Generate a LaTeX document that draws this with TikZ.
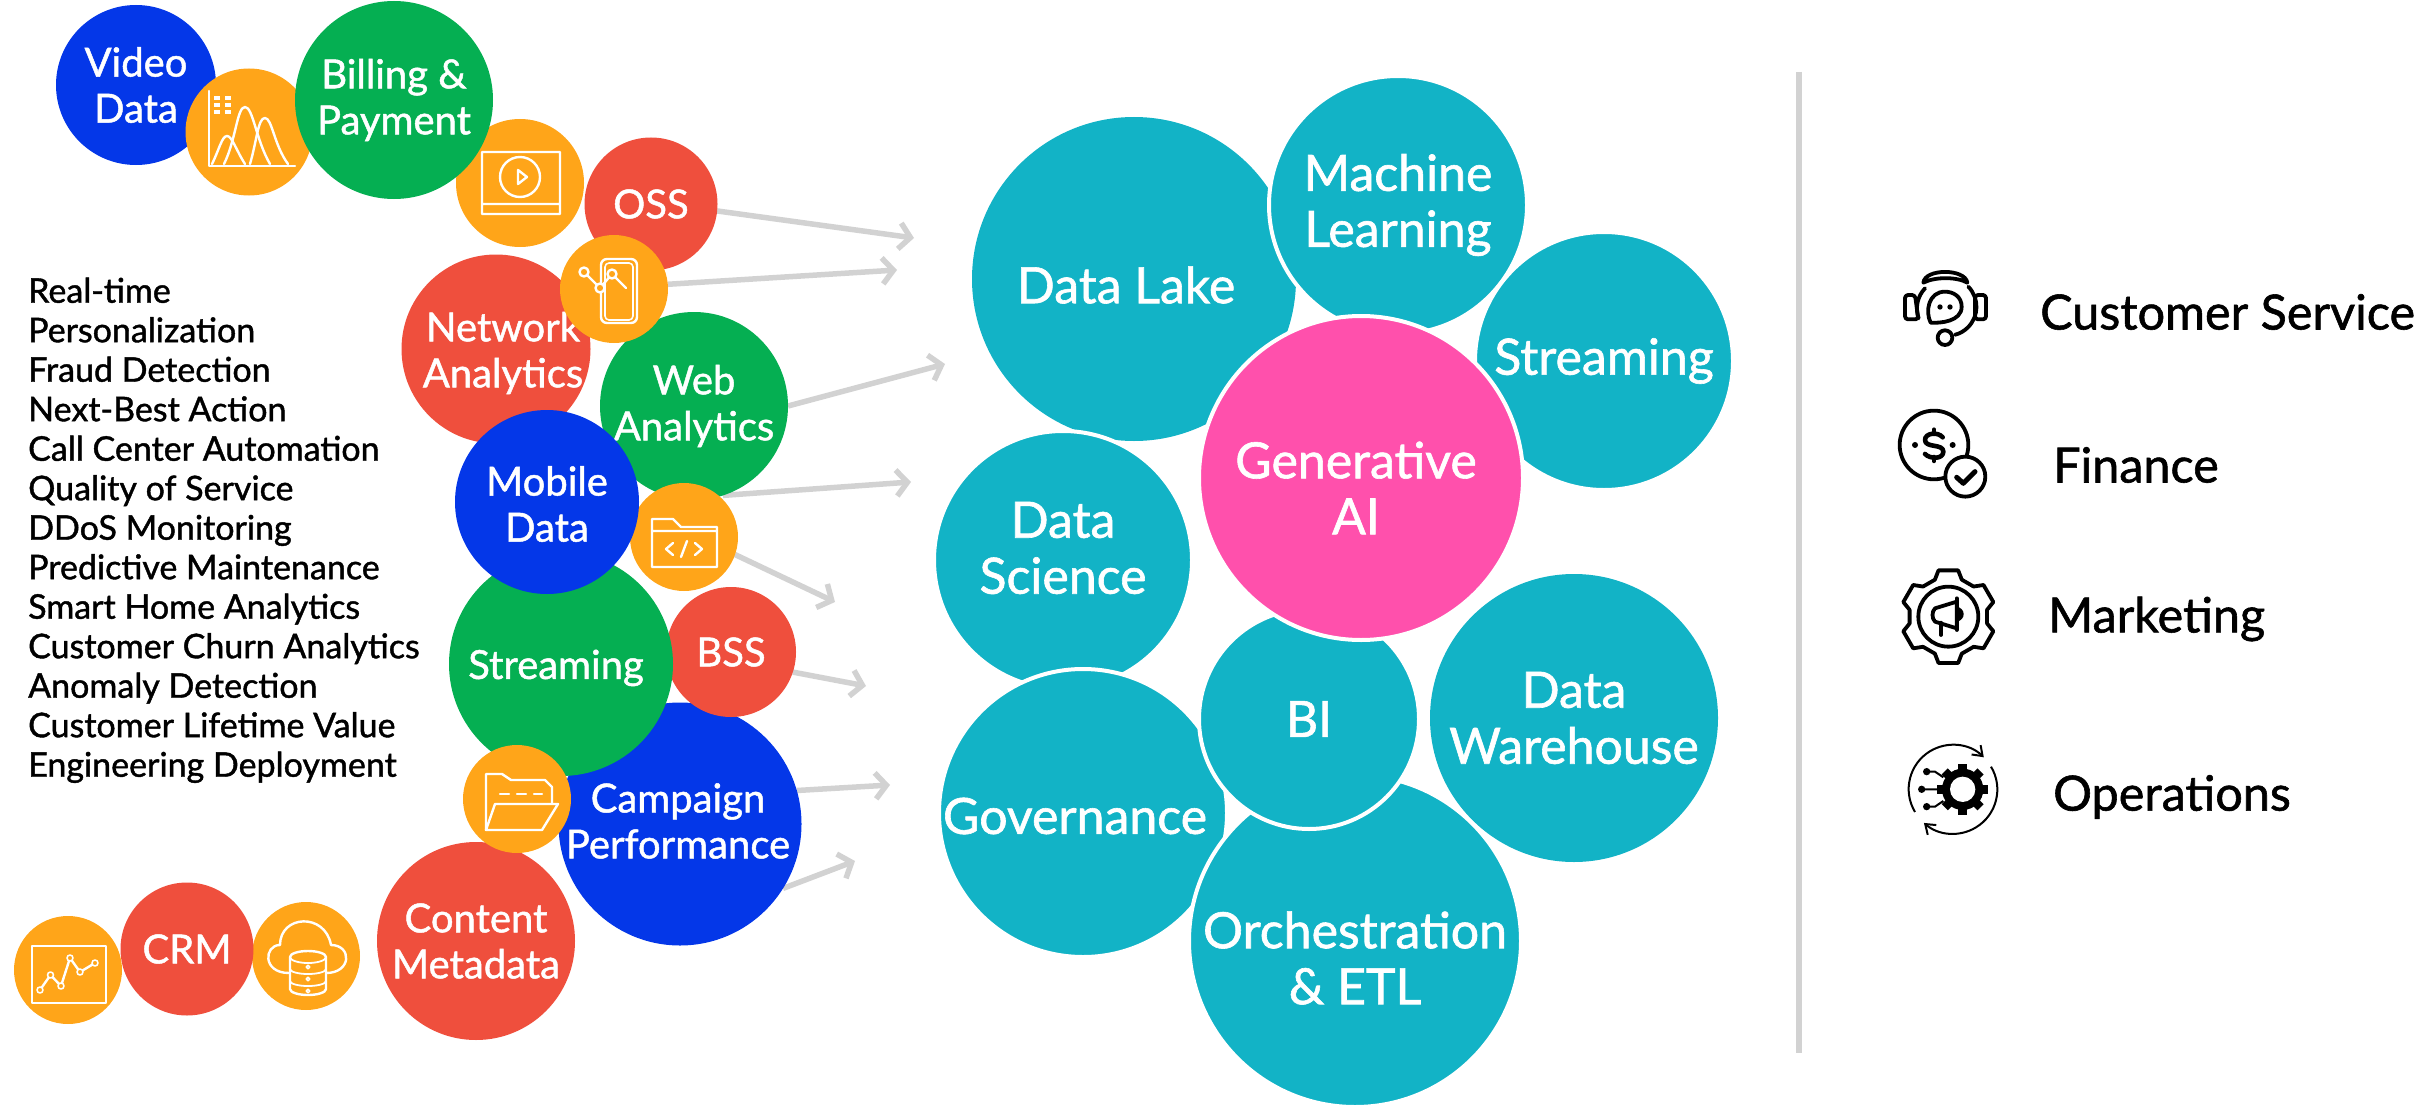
\documentclass[tikz,border=0pt]{standalone}
\usepackage{fontspec}
\setmainfont[FakeBold=1.2]{Lato}
\usetikzlibrary{arrows.meta,backgrounds}
\definecolor{bub-blue}{HTML}{0437E8}
\definecolor{bub-green}{HTML}{05AF52}
\definecolor{bub-red}{HTML}{EF4F3D}
\definecolor{bub-orange}{HTML}{FFA519}
\definecolor{bub-teal}{HTML}{12B3C6}
\definecolor{bub-pink}{HTML}{FF50AC}
\definecolor{flow-grey}{HTML}{D2D2D2}
\tikzset{
  bub/.style={circle,inner sep=0pt,outer sep=0pt,text=white,align=center,font=\fontsize{40}{46}\selectfont},
  big/.style={bub,font=\fontsize{50}{56}\selectfont},
  ring/.style={draw=white,line width=4pt},
  flow/.style={draw=flow-grey,line width=5.5pt,-{Straight Barb[length=11pt,width=26pt,line width=5.5pt]}},
  ico/.style={draw=white,line width=2.4pt,line join=round,line cap=round},
  blk/.style={draw=black,line width=3.8pt,line join=round,line cap=round},
  lab/.style={anchor=west,inner sep=0pt,font=\fontsize{48.5}{54}\selectfont},
}
\begin{document}
\begin{tikzpicture}[x=1pt,y=-1pt]
\useasboundingbox (0,0) rectangle (2420,1105);
% left bubbles
\node[bub,fill=bub-blue,minimum size=160pt] (video) at (136,85) {Video\\Data};
\node[bub,fill=bub-orange,minimum size=127pt] (chartA) at (249,132) {};
\draw[ico] (209,91) -- (209,166) -- (295,166);
\draw[ico] (212,164) .. controls (219,150) and (222,136) .. (227,136) .. controls (232,136) and (236,150) .. (245,164);
\draw[ico] (224,164) .. controls (236,140) and (237,107) .. (245,107) .. controls (253,107) and (256,140) .. (270,164);
\draw[ico] (250,164) .. controls (257,140) and (258,118) .. (265,118) .. controls (272,118) and (274,145) .. (288,164);
\foreach \px in {217,228} \foreach \py in {98,105,112} \fill[white] (\px-3,\py-2) rectangle (\px+3,\py+2);
\node[bub,fill=bub-orange,minimum size=128pt] (play) at (520,183) {};
\draw[ico] (482,152) rectangle (560,214) (482,204) -- (560,204) (520,177) circle[radius=20] (518,170) -- (527,177) -- (518,184) -- cycle;
\node[bub,fill=bub-green,minimum size=198pt] (billing) at (394,100) {Billing \&\\Payment};
\node[bub,fill=bub-red,minimum size=133pt] (oss) at (651,204) {OSS};
\node[bub,fill=bub-red,minimum size=189pt,label={[bub,xshift=7pt,yshift=-4pt]center:{Network\\Analytics}}] (network) at (496,349) {};
\node[bub,fill=bub-green,minimum size=188pt] (web) at (694,406) {Web\\Analytics};
\node[bub,fill=bub-orange,minimum size=108pt] (phone) at (614,289) {};
\draw[ico,rounded corners=6pt] (601,259) rectangle (637,323);
\draw[ico,line width=1.6pt,rounded corners=4pt] (605,263) rectangle (633,320);
\draw[ico] (584,272) -- (600,288) -- (612,274) -- (626,288);
\foreach \px/\py in {584/272,600/288,612/274} \draw[ico,fill=bub-orange] (\px,\py) circle[radius=4.5];
\node[bub,fill=bub-orange,minimum size=108pt] (code) at (684,537) {};
\draw[ico] (652,519) -- (673,519) -- (681,527) -- (717,527) -- (717,567) -- (652,567) -- cycle (652,531) -- (717,531);
\draw[ico] (673,543) -- (666,549) -- (673,555) (695,543) -- (702,549) -- (695,555) (687,541) -- (681,557);
\node[bub,fill=bub-blue,minimum size=243pt,label={[bub,xshift=-2pt,yshift=3pt]center:{Campaign\\Performance}}] (campaign) at (680,824) {};
\node[bub,fill=bub-red,minimum size=130pt] (bss) at (731,652) {BSS};
\node[bub,fill=bub-green,minimum size=224pt,label={[bub,xshift=-5pt,yshift=-4pt]center:{Streaming}}] (stream) at (561,664) {};
\node[bub,fill=bub-blue,minimum size=184pt,label={[bub,yshift=-2pt]center:{Mobile\\Data}}] (mobile) at (547,502) {};
\node[bub,fill=bub-red,minimum size=198pt] (content) at (476,941) {Content\\Metadata};
\node[bub,fill=bub-orange,minimum size=108pt] (folder) at (517,799) {};
\draw[ico] (486,830) -- (486,774) -- (502,774) -- (511,780) -- (545,780) -- (552,787) -- (552,803);
\draw[ico] (495,804) -- (558,804) -- (542,830) -- (486,830) -- cycle;
\draw[ico] (500,794) -- (509,794) (517,794) -- (526,794) (534,794) -- (542,794);
\node[bub,fill=bub-orange,minimum size=108pt] (cloud) at (306,956) {};
\draw[ico] (289,973) .. controls (262,973) and (264,945) .. (280,945) .. controls (280,915) and (325,912) .. (331,945) .. controls (352,945) and (352,973) .. (326,973);
\draw[ico,fill=bub-orange] (290,957) -- (290,989) arc[start angle=180,end angle=0,x radius=18,y radius=6] -- (326,957) arc[start angle=0,end angle=-180,x radius=18,y radius=6];
\draw[ico,line width=1.8pt] (290,957) arc[start angle=180,end angle=0,x radius=18,y radius=6];
\draw[ico,line width=1.8pt] (290,969) arc[start angle=180,end angle=0,x radius=18,y radius=5] (290,981) arc[start angle=180,end angle=0,x radius=18,y radius=5];
\foreach \py in {967,979,991} \draw[ico,line width=1.5pt] (308,\py) circle[radius=1.8];
\node[bub,fill=bub-red,minimum size=133pt] (crm) at (187,949) {CRM};
\node[bub,fill=bub-orange,minimum size=108pt] (chartB) at (68,970) {};
\draw[ico] (32,946) rectangle (106,1003);
\draw[ico] (40,990) -- (50.5,975) -- (61,986) -- (70,958) -- (80,972) -- (95,963);
\foreach \px/\py in {40/990,50.5/975,61/986,70/958,80/972,95/963} \draw[ico,line width=1.6pt,fill=bub-orange] (\px,\py) circle[radius=3];
% arrows
\coordinate (tA) at (914,238);
\coordinate (tB) at (897,270);
\coordinate (tC) at (945,364);
\coordinate (tD) at (911,482);
\coordinate (tE) at (835,602);
\coordinate (tF) at (866,686);
\coordinate (tG) at (890,785);
\coordinate (tH) at (855,861);
\begin{scope}[on background layer]
\draw[flow] (oss.-6) -- (tA);
\draw[flow] (phone.5) -- (tB);
\draw[flow] (web.0) -- (tC);
\draw[flow] (web.-72) -- (tD);
\draw[flow] (code.-19) -- (tE);
\draw[flow] (bss.-18) -- (tF);
\draw[flow] (campaign.16) -- (tG);
\draw[flow] (campaign.-32) -- (tH);
\end{scope}
% list
\node[anchor=north west,inner sep=0pt,align=left,font=\fontsize{34}{39.5}\selectfont] (uses) at (28,277.5) {Real-time\\Personalization\\Fraud Detection\\Next-Best Action\\Call Center Automation\\Quality of Service\\DDoS Monitoring\\Predictive Maintenance\\Smart Home Analytics\\Customer Churn Analytics\\Anomaly Detection\\Customer Lifetime Value\\Engineering Deployment};
% teal bubbles
\node[big,fill=bub-teal,minimum size=324pt,label={[big,xshift=-8pt,yshift=-6pt]center:{Data Lake}}] (lake) at (1134,279) {};
\node[big,fill=bub-teal,ring,minimum size=258pt] (ml) at (1398,205) {Machine\\Learning};
\node[big,fill=bub-teal,ring,minimum size=258pt] (streamR) at (1604,361) {Streaming};
\node[big,fill=bub-teal,ring,minimum size=258pt,label={[big,yshift=12pt]center:{Data\\Science}}] (science) at (1063,560) {};
\node[big,fill=bub-teal,minimum size=288pt] (dw) at (1574,718) {Data\\Warehouse};
\node[big,fill=bub-teal,ring,minimum size=288pt,label={[big,xshift=-8pt,yshift=-3pt]center:{Governance}}] (gov) at (1083,813) {};
\node[big,fill=bub-teal,ring,minimum size=332pt,label={[big,yshift=-17pt]center:{Orchestration\\\& ETL}}] (orch) at (1355,941) {};
\node[big,fill=bub-teal,ring,minimum size=220pt] (bi) at (1309,719) {BI};
\node[big,fill=bub-pink,ring,minimum size=324pt,label={[big,xshift=-5pt,yshift=-10pt]center:{Generative\\AI}}] (genai) at (1361,478) {};
% separator
\coordinate (sepA) at (1799,72);
\coordinate (sepB) at (1799,1053);
\draw[flow-grey,line width=6pt] (sepA) -- (sepB);
% right labels
\node[lab] (cs) at (2040,312) {Customer Service};
\node[lab] (fin) at (2053,465) {Finance};
\node[lab] (mkt) at (2048,619) {Marketing};
\node[lab] (ops) at (2053,797) {Operations};
% headset
\begin{scope}[shift={(1860,240)},x=0.3333pt,y=-0.3333pt]
\draw[blk] (190,128) .. controls (195,85) and (315,85) .. (322,128) .. controls (290,110) and (225,110) .. cycle;
\draw[blk] (176,235) arc[start angle=160,end angle=224,radius=87];
\draw[blk] (325,140) arc[start angle=-44,end angle=75,radius=87];
\draw[blk,rounded corners=3pt] (165,165) -- (135,165) -- (135,238) -- (175,238) -- cycle;
\draw[blk,rounded corners=3pt] (345,165) -- (378,165) -- (378,238) -- (345,238) -- cycle;
\draw[blk] (255,155) .. controls (205,155) and (195,215) .. (212,248) .. controls (240,250) and (305,245) .. (305,200) .. controls (305,170) and (280,155) .. (255,155) -- cycle;
\fill (240,201) circle[radius=8] (270,201) circle[radius=8];
\draw[blk,fill=white] (255,293) circle[radius=22];
\end{scope}
% finance
\begin{scope}[shift={(1860,240)},x=0.3333pt,y=-0.3333pt]
\draw[blk] (222,615) circle[radius=103];
\draw[blk,fill=white] (316,710) circle[radius=60];
\draw[blk,line width=4.6pt] (248,592) .. controls (235,575) and (195,578) .. (195,600) .. controls (195,625) and (250,610) .. (250,635) .. controls (250,658) and (210,658) .. (195,642);
\draw[blk] (222,568) -- (222,582) (222,650) -- (222,664);
\fill (165,615) circle[radius=9] (278,615) circle[radius=9];
\draw[blk,line width=5pt] (290,712) -- (310,730) -- (345,695);
\end{scope}
% marketing
\begin{scope}[shift={(1860,540)},x=0.3333pt,y=-0.3333pt]
\begin{scope}[shift={(265,230)}]
\draw[blk] (70:118) \foreach \a in {90,150,210,270,330,390} {-- (\a-20:118) -- (\a-12:142) -- (\a+12:142) -- (\a+20:118)} -- cycle;
\draw[blk] (0,0) circle[radius=90];
\end{scope}
\draw[blk] (225,205) -- (290,185) -- (290,265) -- (225,245) .. controls (215,235) and (215,215) .. (225,205) -- cycle;
\draw[blk] (243,248) -- (243,285) (290,175) -- (290,270);
\fill (290,200) .. controls (318,205) and (318,240) .. (290,245) -- cycle;
\end{scope}
% operations
\begin{scope}[shift={(1860,540)},x=0.3333pt,y=-0.3333pt]
\draw[black,line width=2pt,-{Straight Barb[length=9pt,width=13pt]}] (165,816) arc[start angle=149,end angle=314,radius=133];
\draw[black,line width=2pt,-{Straight Barb[length=9pt,width=13pt]}] (393,680) arc[start angle=-31,end angle=131,radius=133];
\fill (308,748) circle[radius=62];
\foreach \a in {0,45,...,315} \fill[shift={(308,748)},rotate=\a] (60,-13) rectangle (76,13);
\fill[white] (308,748) circle[radius=38];
\draw[black,line width=2pt] (200,695) -- (225,695) -- (250,712) (185,748) -- (250,748) (200,800) -- (225,800) -- (250,783);
\fill (200,695) circle[radius=11] (185,748) circle[radius=11] (200,800) circle[radius=11];
\end{scope}
\end{tikzpicture}
\end{document}
